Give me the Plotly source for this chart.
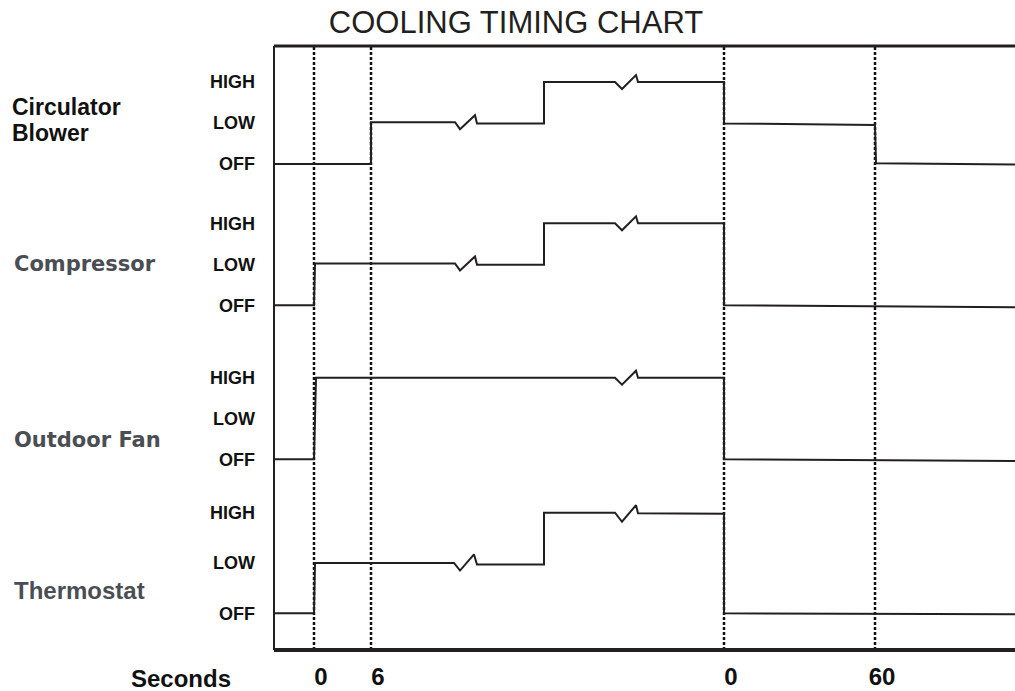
import plotly.graph_objects as go
from plotly.subplots import make_subplots

# ---- data ----
title = "COOLING TIMING CHART"
row_names = ["Circulator Blower", "Compressor", "Outdoor Fan", "Thermostat"]
level_names = ["OFF", "LOW", "HIGH"]

# time axis is schematic: position units, events marked by dotted lines
event_x = [40, 97, 450, 601]
event_labels = ["0", "6", "0", "60"]
x_end = 741

blower_x = [0, 97, 97, 181, 186, 201, 203, 270, 270, 341, 348, 362, 364, 450, 450, 601, 602, 741]
blower_y = [0, 0, 1.02, 1.02, 0.85, 1.19, 0.99, 0.99, 2.0, 2.0, 1.83, 2.17, 2.0, 2.0, 0.99, 0.95, 0.02, -0.01]

compressor_x = [0, 40, 41, 181, 186, 201, 203, 270, 270, 341, 348, 362, 364, 450, 450, 741]
compressor_y = [0, 0, 1.02, 1.02, 0.85, 1.19, 0.99, 0.99, 2.0, 2.0, 1.83, 2.17, 2.0, 2.0, 0, -0.05]

fan_x = [0, 40, 42, 341, 348, 362, 364, 450, 450, 741]
fan_y = [0, 0, 2.0, 2.0, 1.83, 2.17, 2.0, 2.0, 0, -0.04]

thermostat_x = [0, 40, 41, 180, 186, 200, 203, 270, 270, 341, 348, 362, 364, 450, 450, 741]
thermostat_y = [0, 0, 1.0, 1.0, 0.85, 1.17, 0.97, 0.97, 2.0, 2.0, 1.82, 2.15, 1.99, 1.98, 0, -0.02]

series = [(blower_x, blower_y), (compressor_x, compressor_y),
          (fan_x, fan_y), (thermostat_x, thermostat_y)]

# ---- layout geometry (pixels of the 1015x691 canvas) ----
W, H = 1015, 691
left, top, bottom = 274, 46, 650
# per row: OFF line px, px per level, domain top px, domain bottom px
row_geom = [(164, 41, 46, 190), (305.3, 41, 195, 335),
            (459.3, 40.8, 345, 485), (613.3, 50.3, 490, 650)]


def py(p):
    return (bottom - p) / (bottom - top)


def px(p):
    return (p - left) / (W - left)


ARIAL = "Liberation Sans, Arial, sans-serif"
DEJAVU = "DejaVu Sans, Verdana, sans-serif"
INK = "#231f20"
GREY = "#4a4e53"

fig = make_subplots(rows=4, cols=1, shared_xaxes=True)

for i, (xs, ys) in enumerate(series):
    fig.add_trace(go.Scatter(x=xs, y=ys, mode="lines", line=dict(color=INK, width=2),
                             hoverinfo="skip", showlegend=False, cliponaxis=False),
                  row=i + 1, col=1)
    off, step, dtop, dbot = row_geom[i]
    fig.update_yaxes(domain=[py(dbot), py(dtop)],
                     range=[(off - dbot) / step, (off - dtop) / step],
                     tickvals=[0, 1, 2], ticktext=level_names,
                     tickfont=dict(family=ARIAL, size=18, color="#111", weight="bold"),
                     ticks="", ticklabelstandoff=18,
                     showgrid=False, zeroline=False, showline=False, fixedrange=True,
                     row=i + 1, col=1)

fig.update_xaxes(range=[0, x_end], showgrid=False, zeroline=False, showline=False,
                 showticklabels=False, ticks="", fixedrange=True)
fig.update_xaxes(showticklabels=True, tickvals=event_x, ticktext=event_labels,
                 tickfont=dict(family=ARIAL, size=24, color="#111", weight="bold"),
                 ticklabelstandoff=10, ticklabelshift=7, row=4, col=1)

# dotted event lines across all rows
for xv in event_x:
    fig.add_shape(type="line", xref="x4", yref="paper", x0=xv, x1=xv, y0=0, y1=1,
                  line=dict(color="#111", width=2.5, dash="3px,2px"), layer="below")

# frame: top, left, bottom
fig.add_shape(type="line", xref="paper", yref="paper", x0=0, x1=1, y0=1, y1=1,
              line=dict(color=INK, width=3))
fig.add_shape(type="line", xref="paper", yref="paper", x0=0, x1=0, y0=0, y1=1,
              line=dict(color=INK, width=2))
fig.add_shape(type="line", xref="paper", yref="paper", x0=0, x1=1, y0=0, y1=0,
              line=dict(color=INK, width=4))

# row names on the left
labels = [
    ("Circulator", 10, 107, ARIAL, 23, "#111"),
    ("Blower", 10, 133, ARIAL, 23, "#111"),
    (row_names[1], 12, 264, DEJAVU, 21, GREY),
    (row_names[2], 12, 440, DEJAVU, 21, GREY),
    (row_names[3], 12, 590, ARIAL, 24, GREY),
    ("Seconds", 129, 678, ARIAL, 24, "#111"),
]
for text, lx, ly, fam, size, col in labels:
    fig.add_annotation(text=text, xref="paper", yref="paper", x=px(lx), y=py(ly),
                       xanchor="left", yanchor="middle", showarrow=False,
                       font=dict(family=fam, size=size, color=col, weight="bold"))

fig.update_layout(
    width=W, height=H,
    margin=dict(l=left, r=0, t=top, b=H - bottom),
    paper_bgcolor="white", plot_bgcolor="white",
    title=dict(text=title, x=516 / W, y=1 - 22 / H, xanchor="center", yanchor="middle",
               font=dict(family=ARIAL, size=31, color=INK)),
    showlegend=False,
)

fig.write_html("out.html", config={"displayModeBar": False},
               post_script="document.body.style.margin='0';")
